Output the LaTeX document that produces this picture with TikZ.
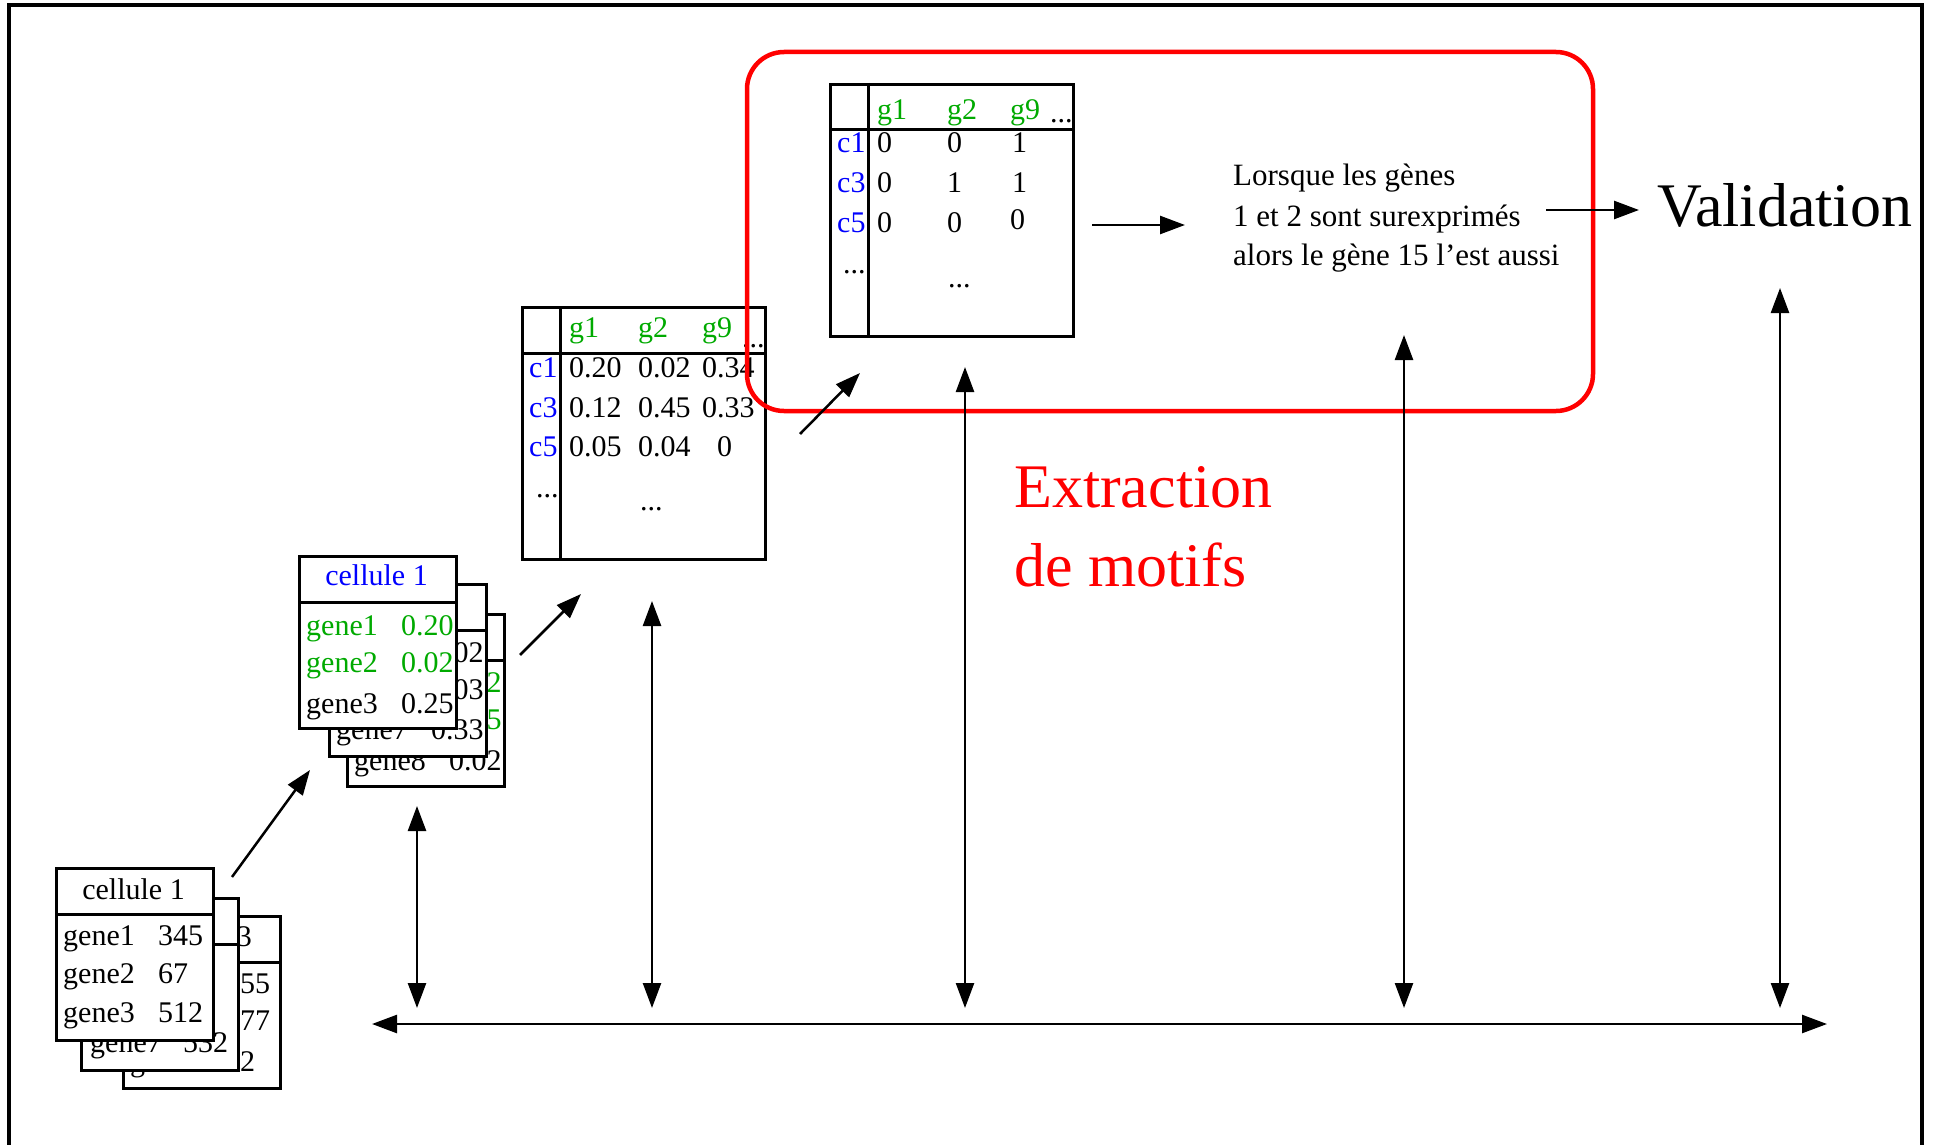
\documentclass[tikz,border=0pt]{standalone}
\usepackage{fontspec}
\setmainfont{Liberation Serif}
\usetikzlibrary{arrows.meta}
\definecolor{mgreen}{RGB}{0,170,0}
\definecolor{mblue}{RGB}{0,0,255}
\definecolor{mred}{RGB}{255,0,0}
\newcommand\mkcard[3]{%
  \node[cardbox] (#1) at (#2,#3) {};
  \draw[line width=3pt] ([yshift=-47pt]#1.north west) -- ([yshift=-47pt]#1.north east);
}
\begin{document}
\begin{tikzpicture}[x=1pt,y=-1pt,
  cardbox/.style={draw=black, line width=3pt, fill=white, rectangle, inner sep=0pt, anchor=north west, minimum width=157pt, minimum height=172pt},
  matbox/.style={draw=black, line width=3pt, rectangle, inner sep=0pt, anchor=north west, minimum width=243pt, minimum height=252pt},
  rule/.style={line width=3pt},
  txt/.style={anchor=base west, inner sep=0pt, font=\fontsize{30}{36}\selectfont},
  ctxt/.style={anchor=base, inner sep=0pt, font=\fontsize{30}{36}\selectfont},
  note/.style={anchor=base west, inner sep=0pt, font=\fontsize{31}{37}\selectfont},
  big/.style={anchor=base west, inner sep=0pt, font=\fontsize{62}{74}\selectfont},
  arr/.style={line width=2.5pt, -{Triangle[length=25pt,width=18pt]}},
  darr/.style={line width=2.5pt, {Triangle[length=25pt,width=18pt]}-{Triangle[length=25pt,width=18pt]}},
]
\useasboundingbox (0,0) rectangle (1935,1145);
% outer frame
\draw[line width=3.5pt] (9,1150) -- (9,5) -- (1922,5) -- (1922,1150);

% ---- raw cards (back to front)
\mkcard{rawC}{122}{915}
\node[ctxt] (rawChead) at (200.5,946) {cellule 3};
\node[txt] (rawCv1) at (225,993) {255};
\node[txt] (rawCv2) at (225,1030) {877};
\node[txt] (rawCg3) at (130,1071) {gene8};
\node[txt] (rawCv3) at (225,1071) {32};
\mkcard{rawB}{80}{897}
\node[txt] (rawBg3) at (90,1052) {gene7};
\node[txt] (rawBv3) at (183,1052) {532};
\mkcard{rawA}{55}{867}
\node[ctxt] (rawAhead) at (133.5,899) {cellule 1};
\node[txt] (rawAg1) at (63,945) {gene1};
\node[txt] (rawAv1) at (158,945) {345};
\node[txt] (rawAg2) at (63,983) {gene2};
\node[txt] (rawAv2) at (158,983) {67};
\node[txt] (rawAg3) at (63,1022) {gene3};
\node[txt] (rawAv3) at (158,1022) {512};

% ---- normalised cards
\mkcard{nrmC}{346}{613}
\node[txt, text=mgreen] (nrmCv1) at (449,692) {0.12};
\node[txt, text=mgreen] (nrmCv2) at (449,729) {0.45};
\node[txt] (nrmCg3) at (354,770) {gene8};
\node[txt] (nrmCv3) at (449,770) {0.02};
\mkcard{nrmB}{328}{583}
\node[txt] (nrmBv1) at (431,662) {0.02};
\node[txt] (nrmBv2) at (431,699) {0.03};
\node[txt] (nrmBg3) at (336,739) {gene7};
\node[txt] (nrmBv3) at (431,739) {0.33};
\mkcard{nrmA}{298}{555}
\node[ctxt, text=mblue] (nrmAhead) at (376.5,585) {cellule 1};
\node[txt, text=mgreen] (nrmAg1) at (306,635) {gene1};
\node[txt, text=mgreen] (nrmAv1) at (401,635) {0.20};
\node[txt, text=mgreen] (nrmAg2) at (306,672) {gene2};
\node[txt, text=mgreen] (nrmAv2) at (401,672) {0.02};
\node[txt] (nrmAg3) at (306,713) {gene3};
\node[txt] (nrmAv3) at (401,713) {0.25};

% ---- matrix 1 (values)
\node[matbox] (matA) at (521,306) {};
\draw[rule] (560,306) -- (560,558);
\draw[rule] (521,353) -- (764,353);
\node[txt, text=mgreen] (mAh1) at (569,337) {g1};
\node[txt, text=mgreen] (mAh2) at (638,337) {g2};
\node[txt, text=mgreen] (mAh3) at (702,337) {g9};
\node[txt] (mAh4) at (742,347) {...};
\node[txt, text=mblue] (mAr1) at (529,377) {c1};
\node[txt, text=mblue] (mAr2) at (529,417) {c3};
\node[txt, text=mblue] (mAr3) at (529,456) {c5};
\node[txt] (mA11) at (569,377) {0.20};
\node[txt] (mA12) at (638,377) {0.02};
\node[txt] (mA13) at (702,377) {0.34};
\node[txt] (mA21) at (569,417) {0.12};
\node[txt] (mA22) at (638,417) {0.45};
\node[txt] (mA23) at (702,417) {0.33};
\node[txt] (mA31) at (569,456) {0.05};
\node[txt] (mA32) at (638,456) {0.04};
\node[txt] (mA33) at (717,456) {0};
\node[txt] (mArd) at (536,497) {...};
\node[txt] (mAmd) at (640,510) {...};

% ---- matrix 2 (binary)
\node[matbox] (matB) at (829,83) {};
\draw[rule] (868,83) -- (868,335);
\draw[rule] (829,130) -- (1072,130);
\node[txt, text=mgreen] (mBh1) at (877,120) {g1};
\node[txt, text=mgreen] (mBh2) at (947,120) {g2};
\node[txt, text=mgreen] (mBh3) at (1010,120) {g9};
\node[txt] (mBh4) at (1050,123) {...};
\node[txt, text=mblue] (mBr1) at (837,153) {c1};
\node[txt, text=mblue] (mBr2) at (837,192) {c3};
\node[txt, text=mblue] (mBr3) at (837,232) {c5};
\node[txt] (mB11) at (877,153) {0};
\node[txt] (mB12) at (947,153) {0};
\node[txt] (mB13) at (1012,153) {1};
\node[txt] (mB21) at (877,192) {0};
\node[txt] (mB22) at (947,192) {1};
\node[txt] (mB23) at (1012,192) {1};
\node[txt] (mB31) at (877,232) {0};
\node[txt] (mB32) at (947,232) {0};
\node[txt] (mB33) at (1010,229) {0};
\node[txt] (mBrd) at (843,273) {...};
\node[txt] (mBmd) at (948,287) {...};

% ---- rule text
\node[note] (rule1) at (1233,185) {Lorsque les gènes};
\node[note] (rule2) at (1233,226) {1 et 2 sont surexprimés};
\node[note] (rule3) at (1233,265) {alors le gène 15 l’est aussi};

% ---- red frame and label
\draw[mred, line width=4.5pt, rounded corners=37pt] (747,52) rectangle (1593,411);
\node[big, text=mred] (ext1) at (1014,507) {Extraction};
\node[big, text=mred] (ext2) at (1014,586) {de motifs};
\node[big] (valid) at (1657,226) {Validation};

% ---- connectors
\coordinate (s1) at (232,877); \coordinate (e1) at (310,770);
\coordinate (s2) at (520,655); \coordinate (e2) at (581,594);
\coordinate (s3) at (800,434); \coordinate (e3) at (860,373);
\coordinate (s4) at (1092,225); \coordinate (e4) at (1185,225);
\coordinate (s5) at (1546,210); \coordinate (e5) at (1639,210);
\draw[arr] (s1) -- (e1);
\draw[arr] (s2) -- (e2);
\draw[arr] (s3) -- (e3);
\draw[arr] (s4) -- (e4);
\draw[arr] (s5) -- (e5);

\coordinate (v1t) at (417,806);  \coordinate (v1b) at (417,1008);
\coordinate (v2t) at (652,601);  \coordinate (v2b) at (652,1008);
\coordinate (v3t) at (965,367);  \coordinate (v3b) at (965,1008);
\coordinate (v4t) at (1404,335); \coordinate (v4b) at (1404,1008);
\coordinate (v5t) at (1780,288); \coordinate (v5b) at (1780,1008);
\draw[darr] (v1t) -- (v1b);
\draw[darr] (v2t) -- (v2b);
\draw[darr] (v3t) -- (v3b);
\draw[darr] (v4t) -- (v4b);
\draw[darr] (v5t) -- (v5b);
\coordinate (hl) at (372,1024); \coordinate (hr) at (1827,1024);
\draw[darr] (hl) -- (hr);
\end{tikzpicture}
\end{document}
